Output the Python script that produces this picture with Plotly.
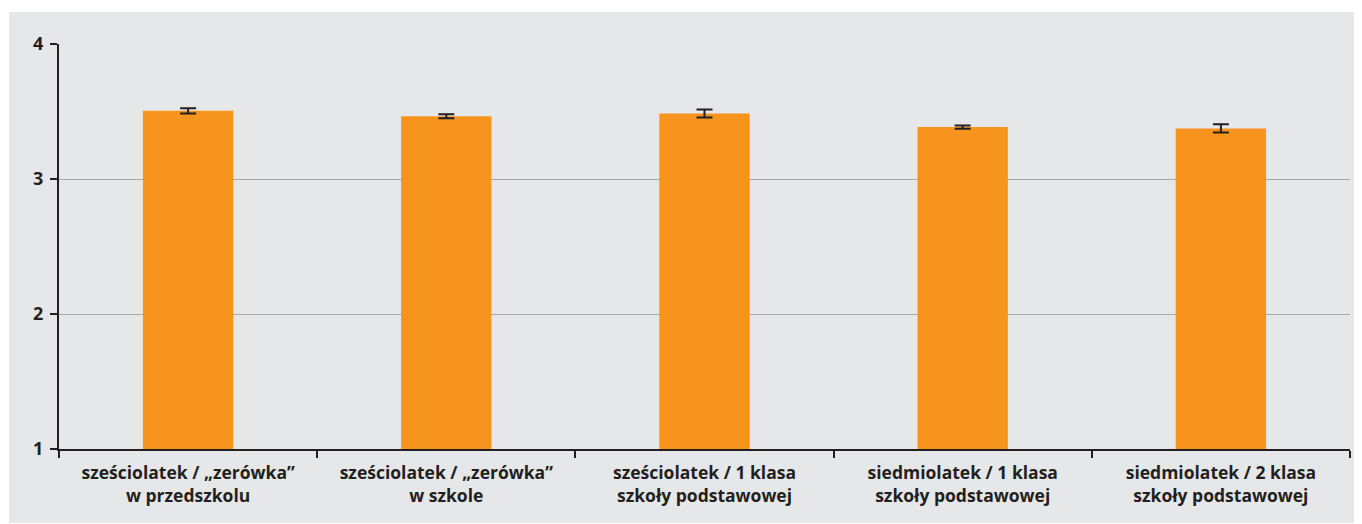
import plotly.graph_objects as go

kategorie = [
    "sześciolatek / „zerówka”<br>w przedszkolu",
    "sześciolatek / „zerówka”<br>w szkole",
    "sześciolatek / 1 klasa<br>szkoły podstawowej",
    "siedmiolatek / 1 klasa<br>szkoły podstawowej",
    "siedmiolatek / 2 klasa<br>szkoły podstawowej",
]
srednie = [3.505, 3.465, 3.485, 3.385, 3.375]
bledy = [0.02, 0.015, 0.03, 0.012, 0.03]
yticks = [1, 2, 3, 4]

ciemny = "#231f20"
fontOsi = dict(family="Open Sans", size=17.5, color=ciemny)

fig = go.Figure()
fig.add_trace(go.Bar(
    x=kategorie, y=srednie, base=0,
    marker=dict(color="#f7941d", line=dict(width=0)),
    width=0.35,
    error_y=dict(type="data", array=bledy, color=ciemny, thickness=2, width=8),
))

# szare tlo wykresu
fig.add_shape(type="rect", xref="paper", yref="paper",
              x0=-0.0387, x1=1.0093, y0=-0.183, y1=1.079,
              fillcolor="#e6e7e8", line=dict(width=0), layer="below")

# strona ma 8px marginesu body, stad mniejsze wymiary
fig.update_layout(
    width=1354, height=516,
    margin=dict(l=51, r=12, t=36, b=75),
    paper_bgcolor="white", plot_bgcolor="rgba(0,0,0,0)",
    showlegend=False,
    xaxis=dict(tickson="boundaries", ticks="outside", ticklen=7, tickwidth=2,
               tickcolor=ciemny, showline=True, linecolor=ciemny, linewidth=2,
               showgrid=False, tickfont=fontOsi, ticklabelstandoff=7),
    yaxis=dict(range=[1, 4], tickvals=yticks, ticks="outside", ticklen=7,
               tickwidth=2, tickcolor=ciemny, showline=True, linecolor=ciemny,
               linewidth=2, gridcolor="#a7a9ac", gridwidth=1, zeroline=False,
               tickfont=dict(family="Open Sans", size=18, color=ciemny),
               ticklabelstandoff=3),
)
fig.update_xaxes(tickfont_weight="bold")
fig.update_yaxes(tickfont_weight="bold")

fig.write_html("out.html")
